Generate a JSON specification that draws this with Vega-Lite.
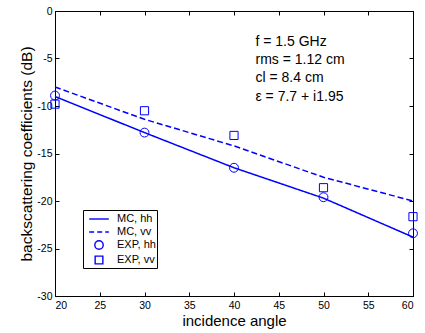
{
  "$schema": "https://vega.github.io/schema/vega-lite/v6.json",
  "autosize": "none",
  "width": 358,
  "height": 285,
  "padding": {"left": 55, "top": 11, "right": 12, "bottom": 37},
  "background": "white",
  "config": {
    "font": "Liberation Sans",
    "view": {"stroke": "black", "strokeWidth": 1},
    "axis": {"grid": false, "domainColor": "black", "tickColor": "black", "labelColor": "black", "titleColor": "black", "labelFont": "Liberation Sans", "titleFont": "Liberation Sans", "labelFontSize": 10.5, "titleFontSize": 15, "titleFontWeight": "normal", "tickSize": -4, "labelPadding": 8}
  },
  "datasets": {
    "curves": [
      {"series": "MC, hh", "angle": 20, "value": -9.0},
      {"series": "MC, hh", "angle": 30, "value": -12.8},
      {"series": "MC, hh", "angle": 40, "value": -16.5},
      {"series": "MC, hh", "angle": 50, "value": -19.7},
      {"series": "MC, hh", "angle": 60, "value": -23.8},
      {"series": "MC, vv", "angle": 20, "value": -8.0},
      {"series": "MC, vv", "angle": 30, "value": -11.4},
      {"series": "MC, vv", "angle": 40, "value": -14.2},
      {"series": "MC, vv", "angle": 50, "value": -17.5},
      {"series": "MC, vv", "angle": 60, "value": -20.0}
    ],
    "points": [
      {"series": "EXP, hh", "angle": 20, "value": -8.9},
      {"series": "EXP, hh", "angle": 30, "value": -12.8},
      {"series": "EXP, hh", "angle": 40, "value": -16.5},
      {"series": "EXP, hh", "angle": 50, "value": -19.6},
      {"series": "EXP, hh", "angle": 60, "value": -23.4},
      {"series": "EXP, vv", "angle": 20, "value": -9.8},
      {"series": "EXP, vv", "angle": 30, "value": -10.5},
      {"series": "EXP, vv", "angle": 40, "value": -13.1},
      {"series": "EXP, vv", "angle": 50, "value": -18.6},
      {"series": "EXP, vv", "angle": 60, "value": -21.65}
    ],
    "notes": [
      {"angle": 42.4, "value": -3.65, "label": "f = 1.5 GHz\nrms = 1.12 cm\ncl = 8.4 cm\nε = 7.7 + i1.95"}
    ]
  },
  "layer": [
    {
      "data": {"name": "curves"},
      "mark": {"type": "line", "color": "#0000ff", "strokeWidth": 1.5},
      "encoding": {
        "x": {"field": "angle", "type": "quantitative", "scale": {"domain": [20, 60], "nice": false, "zero": false},
              "axis": {"orient": "bottom", "values": [20,25,30,35,40,45,50,55,60], "title": "incidence angle", "titlePadding": 3, "labelPadding": 8}},
        "y": {"field": "value", "type": "quantitative", "scale": {"domain": [-30, 0], "nice": false, "zero": false},
              "axis": {"orient": "left", "values": [-30,-25,-20,-15,-10,-5,0], "labelExpr": "'' + datum.value", "title": "backscattering coefficients (dB)", "titlePadding": 2, "labelPadding": 7, "titleFontSize": 15.5}},
        "strokeDash": {"field": "series", "type": "nominal", "scale": {"domain": ["MC, hh", "MC, vv"], "range": [[1, 0], [6, 3]]}, "legend": null}
      }
    },
    {
      "data": {"name": "points"},
      "mark": {"type": "point", "filled": false, "color": "#0000ff", "strokeWidth": 1, "size": 220, "opacity": 1},
      "encoding": {
        "x": {"field": "angle", "type": "quantitative", "axis": {"orient": "top", "values": [20,25,30,35,40,45,50,55,60], "labels": false, "title": null}},
        "y": {"field": "value", "type": "quantitative", "axis": {"orient": "right", "values": [-30,-25,-20,-15,-10,-5,0], "labels": false, "title": null}},
        "shape": {"field": "series", "type": "nominal",
          "scale": {"domain": ["MC, hh", "MC, vv", "EXP, hh", "EXP, vv"],
                    "range": ["M-1.4,0H1.4", "M-1.4,0H-0.7M-0.25,0H0.45M0.9,0H1.4", "M0.6,0A0.6,0.6 0 1,1 -0.6,0A0.6,0.6 0 1,1 0.6,0Z", "M-0.55,-0.55H0.55V0.55H-0.55Z"]},
          "legend": {"title": null, "orient": "none", "legendX": 28, "legendY": 199, "padding": 1, "rowPadding": 0,
                     "symbolSize": 196, "symbolOffset": 7, "labelOffset": 10, "symbolStrokeColor": "#0000ff", "symbolFillColor": "transparent", "symbolStrokeWidth": 1.4,
                     "labelFont": "Liberation Sans", "labelFontSize": 11, "labelColor": "black", "strokeColor": "black", "fillColor": "white",
                     "encode": {"legend": {"update": {"strokeWidth": {"value": 1.5}}}, "symbols": {"update": {"size": {"value": 196}, "strokeWidth": {"value": 1.4}, "fill": {"value": "transparent"}, "stroke": {"value": "#0000ff"}}}}}
        }
      }
    },
    {
      "data": {"name": "notes"},
      "mark": {"type": "text", "align": "left", "baseline": "alphabetic", "fontSize": 14, "lineHeight": 18.3, "lineBreak": "\n", "color": "black", "font": "Liberation Sans"},
      "encoding": {
        "x": {"field": "angle", "type": "quantitative", "axis": null},
        "y": {"field": "value", "type": "quantitative", "axis": null},
        "text": {"field": "label"}
      }
    }
  ],
  "resolve": {"axis": {"x": "independent", "y": "independent"}}
}
